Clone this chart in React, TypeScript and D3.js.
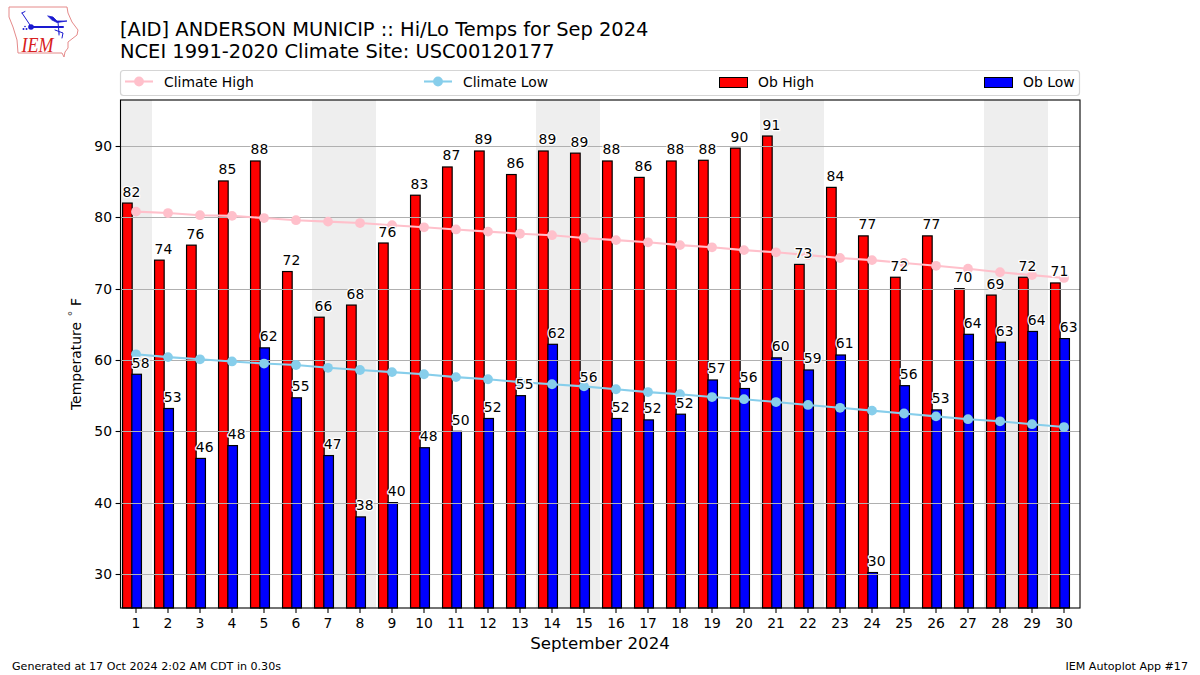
import React from "react";
import * as d3 from "d3";

const days = d3.range(1, 31);
const obHigh = [82,74,76.1,85.1,87.9,72.4,66,67.7,76.4,83.1,87.06,89.3,86,89.3,89,87.9,85.6,87.9,88,89.7,91.4,73.4,84.2,77.4,71.6,77.4,70,69.1,71.6,70.8];
const obLow = [58,53.2,46.2,48,61.7,54.7,46.6,38,40,47.7,50,51.8,55,62.2,56,51.8,51.6,52.4,57.2,56,60.3,58.6,60.7,30.2,56.4,53,63.6,62.5,64,63];
const climateHigh = [80.8,80.6,80.3,80.2,79.9,79.6,79.4,79.2,78.9,78.6,78.3,78.0,77.7,77.5,77.1,76.8,76.5,76.1,75.8,75.4,75.1,74.7,74.3,74.0,73.6,73.2,72.8,72.3,71.9,71.5];
const climateLow = [60.8,60.4,60.1,59.8,59.5,59.3,58.9,58.6,58.3,58,57.6,57.3,56.9,56.6,56.3,55.9,55.5,55.2,54.8,54.5,54.1,53.7,53.3,52.9,52.5,52.1,51.7,51.4,51.0,50.6];
const yTicks = [30,40,50,60,70,80,90];
const weekendSpans = [[1,1],[7,8],[14,15],[21,22],[28,29]];

const FONT = "'DejaVu Sans', sans-serif";
const left = 120.5, right = 1080, top = 100, bottom = 608;
const x = d3.scaleLinear().domain([0.5, 30.5]).range([left - 0.5, right]);
const y = d3.scaleLinear().domain([25.23, 96.45]).range([bottom, top]);
const barW = x(1.3) - x(1);
const highOffset = -0.42, lowOffset = -0.13;

const lineGen = (vals: number[]) =>
  d3.line<number>().x((_, i) => x(days[i])).y((v) => y(v))(vals) || "";

const ink = "#000";
const Legend = () => (
  <g fontFamily={FONT} fontSize={13.9} fill={ink}>
    <rect x={120.5} y={70.5} width={959} height={25} rx={3} fill="#fff" stroke="#d5d5d5" strokeWidth={1.2} />
    <line x1={125} x2={153} y1={81.5} y2={81.5} stroke="pink" strokeWidth={2.08} />
    <circle cx={139} cy={81.5} r={4.9} fill="pink" />
    <text x={164} y={86.5}>Climate High</text>
    <line x1={424} x2={452} y1={81.5} y2={81.5} stroke="skyblue" strokeWidth={2.08} />
    <circle cx={438} cy={81.5} r={4.9} fill="skyblue" />
    <text x={463} y={86.5}>Climate Low</text>
    <rect x={719.5} y={77.5} width={28} height={10} fill="red" stroke="#000" strokeWidth={1} />
    <text x={758} y={86.5}>Ob High</text>
    <rect x={984.5} y={77.5} width={28} height={10} fill="blue" stroke="#000" strokeWidth={1} />
    <text x={1023} y={86.5}>Ob Low</text>
  </g>
);

const Logo = () => (
  <g>
    <path d="M9 7 L67 7 L68 13 L72 22 L78 30 L77 35 L68 42 L68 48 L65 52 L64 57 L62 53 L18 53 L17 40 L13 27 L9 17 Z" fill="#fff" stroke="#e58a8a" strokeWidth={1} />
    <g stroke="#1a1ad0" fill="#1a1ad0" strokeLinecap="round">
      <path d="M32 27 L63 27" strokeWidth={2} fill="none" />
      <path d="M30 25 L22 13 M22 13 L25 11.5" strokeWidth={1} fill="none" />
      <circle cx={31} cy={27} r={2.8} strokeWidth={0} />
      <path d="M48 16 L53 17 L57 21 L67 21 L57 22.5 L52 20 Z" strokeWidth={0.8} />
      <path d="M58 22 L59 33 M55 30 L63 33 L62 38 M59 33 L59 35" strokeWidth={1} fill="none" />
      <circle cx={23.5} cy={29} r={1} strokeWidth={0} />
      <circle cx={26.5} cy={29} r={1} strokeWidth={0} />
      <circle cx={25} cy={26.5} r={0.8} strokeWidth={0} />
    </g>
    <text x={21.5} y={52} fontFamily="'Liberation Serif', serif" fontStyle="italic" fontSize={21} fill="#d82020" textLength={32} lengthAdjust="spacingAndGlyphs">IEM</text>
  </g>
);

export default function App() {
  return (
    <svg width={1200} height={675} style={{ position: "absolute", left: 0, top: 0, background: "#fff" }} fontFamily={FONT}>
      <Logo />
      <text x={120} y={36} fontSize={19.44} fill={ink}>[AID] ANDERSON MUNICIP :: Hi/Lo Temps for Sep 2024</text>
      <text x={120} y={58} fontSize={19.44} fill={ink}>NCEI 1991-2020 Climate Site: USC00120177</text>
      <Legend />

      {weekendSpans.map(([a, b]) => (
        <rect key={a} x={Math.max(x(a - 0.5), left)} y={top} width={x(b + 0.5) - Math.max(x(a - 0.5), left)} height={bottom - top} fill="#eeeeee" />
      ))}

      {days.map((d, i) => (
        <rect key={d} x={x(d + highOffset)} y={y(obHigh[i])} width={barW} height={bottom - y(obHigh[i])} fill="red" stroke="#000" strokeWidth={1.2} />
      ))}
      {days.map((d, i) => (
        <rect key={d} x={x(d + lowOffset)} y={y(obLow[i])} width={barW} height={bottom - y(obLow[i])} fill="blue" stroke="#000" strokeWidth={1.2} />
      ))}

      {yTicks.map((t) => (
        <line key={t} x1={left} x2={right} y1={Math.round(y(t)) + 0.5} y2={Math.round(y(t)) + 0.5} stroke="#b0b0b0" strokeWidth={1.1} />
      ))}

      <path d={lineGen(climateHigh)} fill="none" stroke="pink" strokeWidth={2.08} />
      {days.map((d, i) => <circle key={d} cx={x(d)} cy={y(climateHigh[i])} r={4.9} fill="pink" />)}
      <path d={lineGen(climateLow)} fill="none" stroke="skyblue" strokeWidth={2.08} />
      {days.map((d, i) => <circle key={d} cx={x(d)} cy={y(climateLow[i])} r={4.9} fill="skyblue" />)}

      <g fontSize={13.9} fill={ink} stroke="#fff" strokeWidth={2.5} paintOrder="stroke" strokeLinejoin="round">
        {days.map((d, i) => (
          <text key={d} x={x(d + highOffset)} y={y(obHigh[i]) - 6.5}>{Math.round(obHigh[i])}</text>
        ))}
        {days.map((d, i) => (
          <text key={d} x={x(d + lowOffset)} y={y(obLow[i]) - 6.5}>{Math.round(obLow[i])}</text>
        ))}
      </g>

      <rect x={left} y={top} width={right - left} height={bottom - top} fill="none" stroke="#000" strokeWidth={1.1} />

      {yTicks.map((t) => (
        <g key={t}>
          <line x1={left - 4.9} x2={left} y1={Math.round(y(t)) + 0.5} y2={Math.round(y(t)) + 0.5} stroke="#000" strokeWidth={1.1} />
          <text x={left - 8.5} y={y(t) + 5} textAnchor="end" fontSize={13.9} fill={ink}>{t}</text>
        </g>
      ))}
      {days.map((d) => (
        <g key={d}>
          <line x1={x(d)} x2={x(d)} y1={bottom} y2={bottom + 4.9} stroke="#000" strokeWidth={1.1} />
          <text x={x(d)} y={628} textAnchor="middle" fontSize={13.9} fill={ink}>{d}</text>
        </g>
      ))}

      <text x={600} y={649} textAnchor="middle" fontSize={16.67} fill={ink}>September 2024</text>
      <text transform="translate(81,410) rotate(-90)" fontSize={13.9} fill={ink}>
        Temperature<tspan dx={5} fill="#555">˚</tspan><tspan dx={4}>F</tspan>
      </text>
      <text x={12} y={670} fontSize={11.1} fill={ink}>Generated at 17 Oct 2024 2:02 AM CDT in 0.30s</text>
      <text x={1188} y={670} textAnchor="end" fontSize={11.1} fill={ink}>IEM Autoplot App #17</text>
    </svg>
  );
}
